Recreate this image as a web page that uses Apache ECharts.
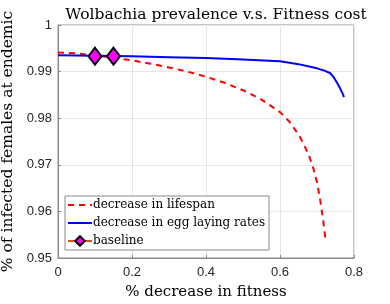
<!DOCTYPE html>
<html><head><meta charset="utf-8">
<script src="https://cdn.jsdelivr.net/npm/echarts@6/dist/echarts.min.js"></script>
<style>html,body{margin:0;padding:0;background:#fff}#c{width:390px;height:304px}</style>
</head><body><div id="c"></div>
<script>
const titleText = 'Wolbachia prevalence v.s. Fitness cost';
const xName = '% decrease in fitness';
const yName = '% of infected females at endemic';
const lifespanX = [0, 0.05, 0.1, 0.15, 0.2, 0.25, 0.3, 0.35, 0.4, 0.45, 0.5, 0.55, 0.6, 0.625, 0.65, 0.665, 0.68, 0.69, 0.7, 0.708, 0.714, 0.719, 0.7235];
const lifespanY = [0.9941, 0.9939, 0.9935, 0.9930, 0.9924, 0.9917, 0.9909, 0.9900, 0.9889, 0.9876, 0.9860, 0.9840, 0.9813, 0.9793, 0.9765, 0.9743, 0.9716, 0.9693, 0.9662, 0.9628, 0.9596, 0.9566, 0.9538];
const eggX = [0, 0.1, 0.2, 0.3, 0.4, 0.5, 0.6, 0.65, 0.7, 0.72, 0.735, 0.745, 0.755, 0.763, 0.768, 0.773];
const eggY = [0.9935, 0.9934, 0.9933, 0.9931, 0.9929, 0.9926, 0.9922, 0.9916, 0.9907, 0.9902, 0.9897, 0.9888, 0.9875, 0.9863, 0.9855, 0.9845];
const baselineX = [0.1, 0.15];
const baselineY = [0.9933, 0.9933];
const xTicks = [0, 0.2, 0.4, 0.6, 0.8];
const yTicks = [0.95, 0.96, 0.97, 0.98, 0.99, 1];

const pairs = (xs, ys) => xs.map((x, i) => [x, ys[i]]);
const serif = 'DejaVu Serif';
const chart = echarts.init(document.getElementById('c'), null, {renderer: 'canvas'});
const axisCommon = {
  axisLine: {show: true, lineStyle: {color: '#8a8a8a', width: 1}},
  axisTick: {show: true, inside: true, length: 3, lineStyle: {color: '#8a8a8a'}},
  splitLine: {show: true, lineStyle: {color: '#e6e6e6', width: 1}},
  axisLabel: {color: '#262626', fontSize: 13, fontFamily: 'Liberation Sans'}
};
chart.setOption({
  animation: false,
  backgroundColor: '#fff',
  title: {text: titleText, left: 211, textAlign: 'center', top: 2,
    textStyle: {fontFamily: serif, fontWeight: 'normal', fontSize: 15.5, color: '#000'}},
  grid: {left: 58, right: 36, top: 25, bottom: 46, show: true, borderColor: '#8a8a8a', borderWidth: 1,
    backgroundColor: 'transparent', outerBoundsMode: 'none', containLabel: false},
  legend: {
    orient: 'vertical', left: 65, top: 196, itemWidth: 24, itemHeight: 12, itemGap: 6,
    padding: [3, 4, 3, 2], borderColor: '#8a8a8a', borderWidth: 1, backgroundColor: '#fff',
    textStyle: {fontFamily: serif, fontSize: 12, color: '#000', padding: [0, 0, 0, -4]},
    data: [
      {name: 'decrease in lifespan', itemStyle: {opacity: 0}},
      {name: 'decrease in egg laying rates', itemStyle: {opacity: 0}},
      {name: 'baseline', lineStyle: {color: '#D95319', width: 2, opacity: 1}}
    ]
  },
  xAxis: Object.assign({}, axisCommon, {
    type: 'value', min: 0, max: 0.8, interval: 0.2,
    name: xName, nameLocation: 'middle', nameGap: 27,
    nameTextStyle: {fontFamily: serif, fontSize: 15, color: '#000'},
    axisLabel: Object.assign({}, axisCommon.axisLabel, {margin: 8, formatter: v => String(+v.toFixed(1))})
  }),
  yAxis: Object.assign({}, axisCommon, {
    type: 'value', min: 0.95, max: 1, interval: 0.01,
    name: yName, nameLocation: 'middle', nameGap: 40,
    nameTextStyle: {fontFamily: serif, fontSize: 15.5, color: '#000'},
    axisLabel: Object.assign({}, axisCommon.axisLabel, {margin: 6, formatter: v => Math.abs(v - 1) < 1e-9 ? '1' : v.toFixed(2)})
  }),
  series: [
    {name: 'decrease in lifespan', type: 'line', data: pairs(lifespanX, lifespanY), smooth: false, showSymbol: false,
      symbol: 'none', lineStyle: {color: '#ff0000', width: 2, type: [6, 5]}, itemStyle: {color: '#ff0000'}, z: 2},
    {name: 'decrease in egg laying rates', type: 'line', data: pairs(eggX, eggY), smooth: false, showSymbol: false,
      symbol: 'none', lineStyle: {color: '#0000ff', width: 2}, itemStyle: {color: '#0000ff'}, z: 3},
    {name: 'baseline', type: 'line', data: pairs(baselineX, baselineY), symbol: 'diamond', symbolSize: [13, 17],
      showSymbol: true, lineStyle: {color: '#D95319', width: 0, opacity: 0},
      itemStyle: {color: '#ff00ff', borderColor: '#000', borderWidth: 2}, z: 4}
  ]
});
</script></body></html>
